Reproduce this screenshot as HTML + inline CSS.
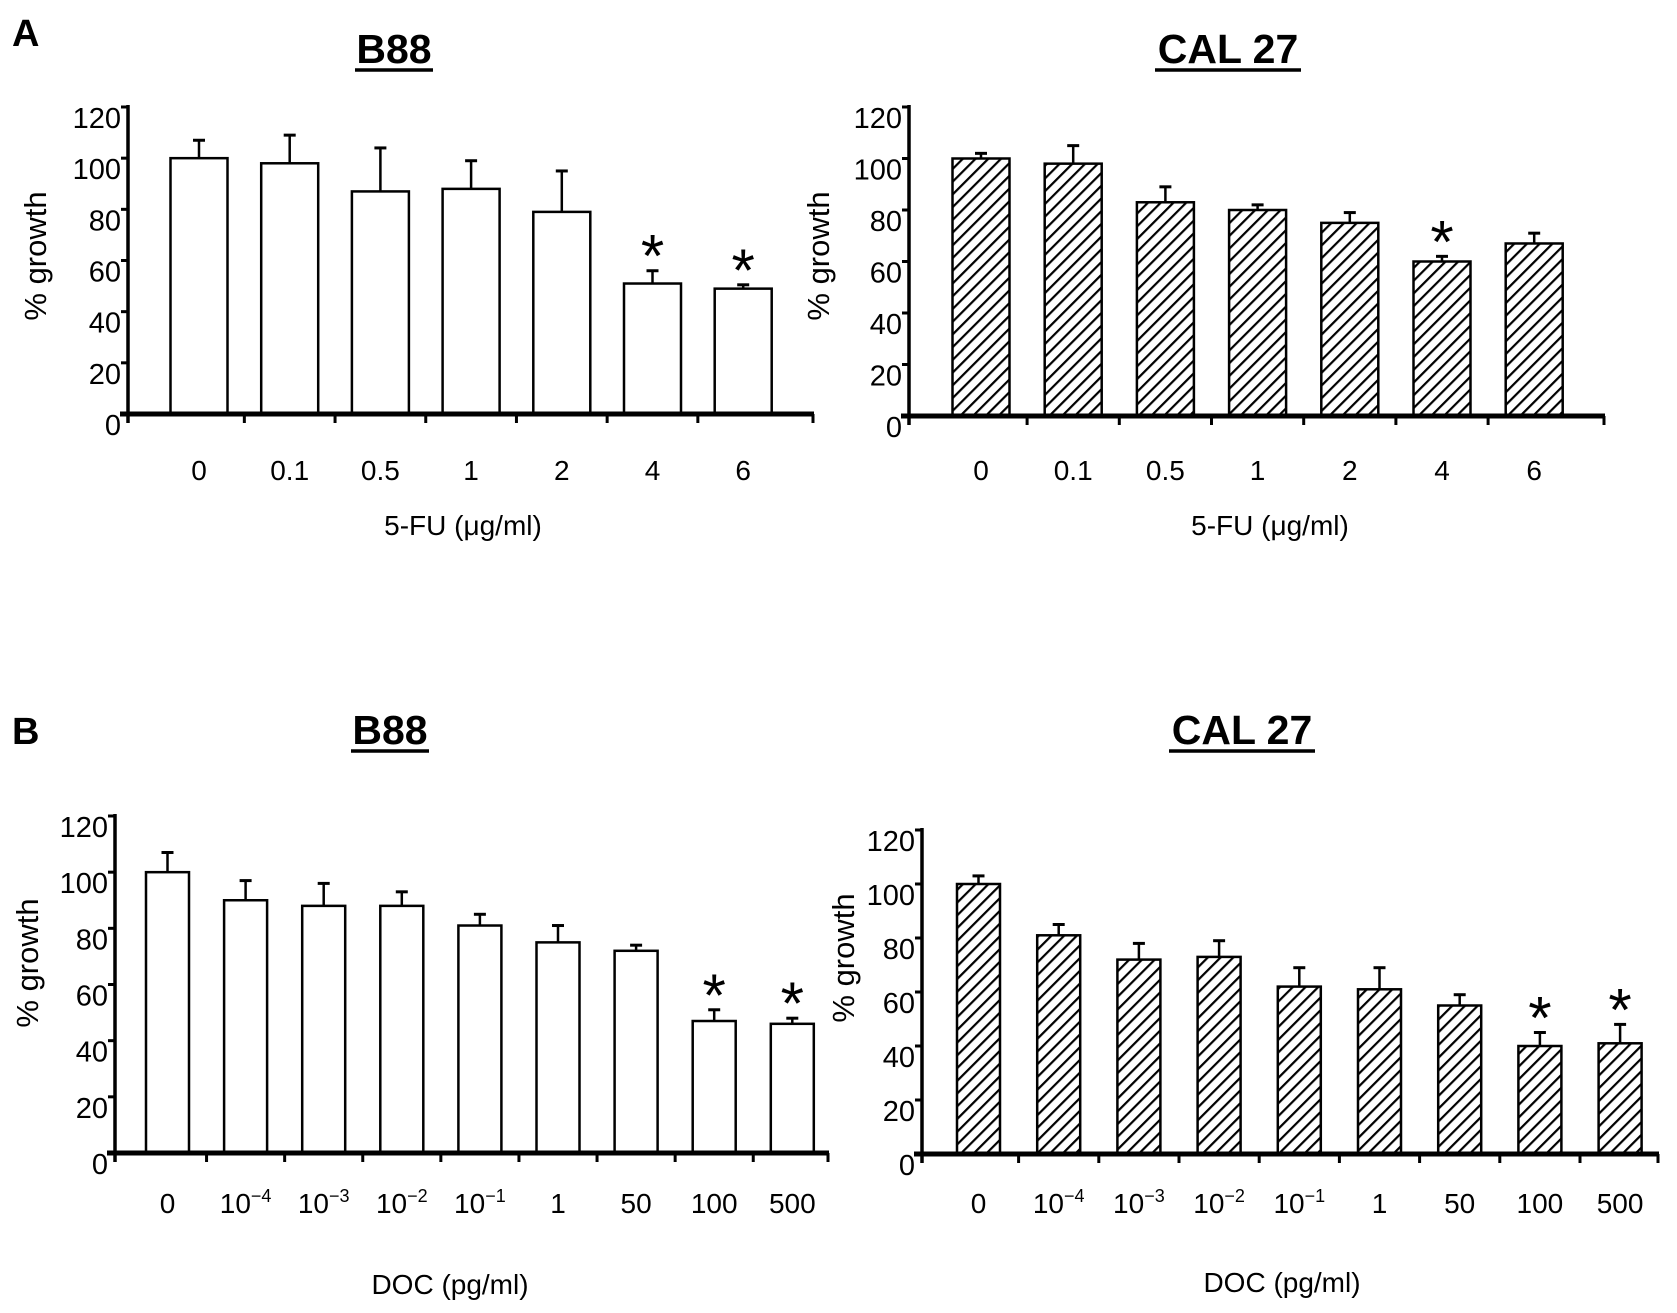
<!DOCTYPE html>
<html><head><meta charset="utf-8"><style>
html,body{margin:0;padding:0;background:#fff}
svg{display:block}
text{font-family:"Liberation Sans",sans-serif;fill:#000}
</style></head><body>
<svg id="fig" width="1677" height="1313" viewBox="0 0 1677 1313">
<defs>
<pattern id="hatch" patternUnits="userSpaceOnUse" width="9" height="9" patternTransform="rotate(45)">
<rect width="9" height="9" fill="#fff"/>
<line x1="0" y1="0" x2="0" y2="9" stroke="#000" stroke-width="4.4"/>
</pattern>
</defs>
<text x="12" y="46" font-size="38" font-weight="bold">A</text>
<text x="12" y="744" font-size="38" font-weight="bold">B</text>
</svg>
<script>
// Panel A left: B88, 5-FU
const aLeftCategories = ["0","0.1","0.5","1","2","4","6"];
const aLeftValues = [100, 98, 87, 88, 79, 51, 49];
const aLeftErrors = [7, 11, 17, 11, 16, 5, 1.5];
const aLeftStars = [false,false,false,false,false,true,true];
// Panel A right: CAL 27, 5-FU
const aRightCategories = ["0","0.1","0.5","1","2","4","6"];
const aRightValues = [100, 98, 83, 80, 75, 60, 67];
const aRightErrors = [2, 7, 6, 2, 4, 2, 4];
const aRightStars = [false,false,false,false,false,true,false];
// Panel B left: B88, DOC
const bLeftCategories = ["0","10^-4","10^-3","10^-2","10^-1","1","50","100","500"];
const bLeftValues = [100, 90, 88, 88, 81, 75, 72, 47, 46];
const bLeftErrors = [7, 7, 8, 5, 4, 6, 2, 4, 2];
const bLeftStars = [false,false,false,false,false,false,false,true,true];
// Panel B right: CAL 27, DOC
const bRightCategories = ["0","10^-4","10^-3","10^-2","10^-1","1","50","100","500"];
const bRightValues = [100, 81, 72, 73, 62, 61, 55, 40, 41];
const bRightErrors = [3, 4, 6, 6, 7, 8, 4, 5, 7];
const bRightStars = [false,false,false,false,false,false,false,true,true];
const yTickValues = [0, 20, 40, 60, 80, 100, 120];

const NS = "http://www.w3.org/2000/svg";
const svg = document.getElementById('fig');
function mk(tag, attrs, parent){
  const e = document.createElementNS(NS, tag);
  for (const k in attrs) e.setAttribute(k, attrs[k]);
  (parent||svg).appendChild(e);
  return e;
}
function drawChart(cfg, cats, vals, errs, stars){
  const g = mk('g', {});
  
  
  const yScale = v => cfg.y0 - (v/120)*(cfg.y0 - cfg.yTop);
  const xScale = i => cfg.c0 + i*cfg.step;
  const t = mk('text', {x: cfg.titleX, y: cfg.titleY, 'font-size': 41, 'font-weight': 'bold', 'text-anchor': 'middle'}, g);
  t.textContent = cfg.title;
  
  
  const tw = cfg.title.length > 3 ? 146 : 78;
  mk('line', {x1: cfg.titleX - tw/2, x2: cfg.titleX + tw/2, y1: cfg.titleY + 7, y2: cfg.titleY + 7, stroke: '#000', 'stroke-width': 3.5}, g);
  const yt = mk('text', {x: 0, y: 0, 'font-size': 31, 'text-anchor': 'middle', transform: `translate(${cfg.ylabX},${cfg.ylabY}) rotate(-90)`}, g);
  yt.textContent = '% growth';
  
  
  vals.forEach((v, i) => {
    const cx = xScale(i);
    const yv = yScale(v);
    const ye = yScale(v + errs[i]);
    const el = mk('line', {x1: cx, x2: cx, y1: yv, y2: ye, stroke: '#000', 'stroke-width': 2.5}, g);
    
    
    mk('line', {x1: cx - 6, x2: cx + 6, y1: ye, y2: ye, stroke: '#000', 'stroke-width': 3}, g);
    const r = mk('rect', {x: cx - cfg.barW/2, y: yv, width: cfg.barW, height: cfg.y0 - yv, fill: cfg.hatch ? 'url(#hatch)' : '#fff', stroke: '#000', 'stroke-width': 2.5}, g);
    
    
    if (stars[i]) {
      const s = mk('text', {x: cx, y: ye + 6, 'font-size': 60, 'text-anchor': 'middle'}, g);
      s.textContent = '*';
      
      
    }
    const lab = mk('text', {x: cx, y: cfg.labY, 'font-size': 28, 'text-anchor': 'middle'}, g);
    
    
    const c = cats[i];
    if (c.indexOf('^') >= 0) {
      const parts = c.split('^');
      const t1 = mk('tspan', {}, lab); t1.textContent = parts[0];
      const t2 = mk('tspan', {'font-size': 18, dy: -11}, lab); t2.textContent = parts[1].replace('-', '\u2212');
    } else lab.textContent = c;
    if (i < vals.length - 1) {
      const tx = cx + cfg.step/2;
      mk('line', {x1: tx, x2: tx, y1: cfg.y0, y2: cfg.y0 + 9, stroke: '#000', 'stroke-width': 3}, g);
    }
  });
  mk('line', {x1: cfg.x0, x2: cfg.x0, y1: cfg.yTop - 2, y2: cfg.y0 + 9, stroke: '#000', 'stroke-width': 3.5}, g);
  const xa = mk('line', {x1: cfg.x0 - 8, x2: cfg.xEnd, y1: cfg.y0, y2: cfg.y0, stroke: '#000', 'stroke-width': 5}, g);
  
  
  mk('line', {x1: cfg.xEnd - 1, x2: cfg.xEnd - 1, y1: cfg.y0, y2: cfg.y0 + 9, stroke: '#000', 'stroke-width': 3}, g);
  yTickValues.forEach(v => {
    const y = yScale(v);
    mk('line', {x1: cfg.x0 - 7, x2: cfg.x0, y1: y, y2: y, stroke: '#000', 'stroke-width': 3}, g);
    const tl = mk('text', {x: cfg.x0 - 7, y: y + 21, 'font-size': 29, 'text-anchor': 'end'}, g);
    tl.textContent = v;
    
    
  });
  const xl = mk('text', {x: cfg.xlabX, y: cfg.xlabY, 'font-size': 28, 'text-anchor': 'middle'}, g);
  xl.textContent = cfg.xlab;
  
  
}
drawChart({name:'chart-a-b88', title:'B88', titleX:394, titleY:63, x0:128, xEnd:814, y0:414, yTop:107, c0:199, step:90.7, barW:57, hatch:false, labY:480, ylabX:46, ylabY:256, xlab:'5-FU (\u03bcg/ml)', xlabX:463, xlabY:535}, aLeftCategories, aLeftValues, aLeftErrors, aLeftStars);
drawChart({name:'chart-a-cal27', title:'CAL 27', titleX:1228, titleY:63, x0:909, xEnd:1605, y0:416, yTop:107, c0:981, step:92.2, barW:57, hatch:true, labY:480, ylabX:829, ylabY:256, xlab:'5-FU (\u03bcg/ml)', xlabX:1270, xlabY:535}, aRightCategories, aRightValues, aRightErrors, aRightStars);
drawChart({name:'chart-b-b88', title:'B88', titleX:390, titleY:744, x0:115, xEnd:829, y0:1153, yTop:816, c0:167.5, step:78.1, barW:43, hatch:false, labY:1213, ylabX:38, ylabY:963, xlab:'DOC (pg/ml)', xlabX:450, xlabY:1294}, bLeftCategories, bLeftValues, bLeftErrors, bLeftStars);
drawChart({name:'chart-b-cal27', title:'CAL 27', titleX:1242, titleY:744, x0:922, xEnd:1659, y0:1154, yTop:830, c0:978.5, step:80.2, barW:43, hatch:true, labY:1213, ylabX:854, ylabY:958, xlab:'DOC (pg/ml)', xlabX:1282, xlabY:1292}, bRightCategories, bRightValues, bRightErrors, bRightStars);
</script>
</body></html>
